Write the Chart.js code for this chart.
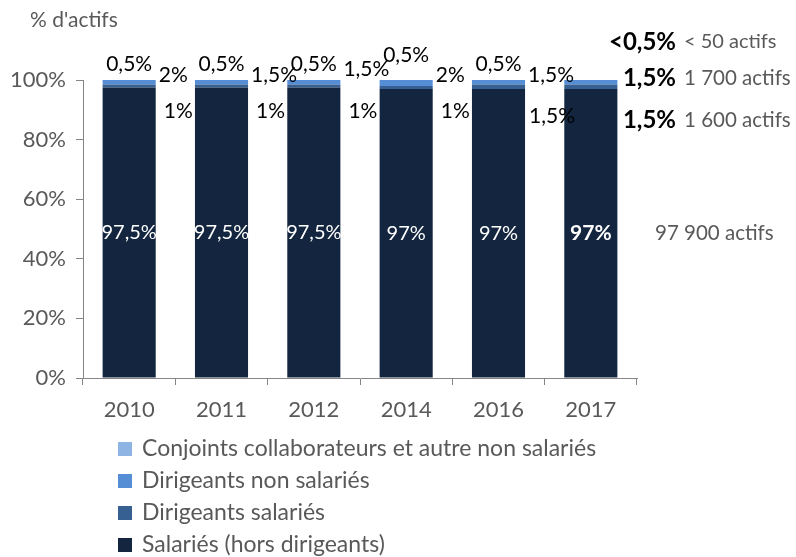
<!DOCTYPE html>
<html>
<head>
<meta charset="utf-8">
<script src="https://cdn.jsdelivr.net/npm/chart.js@4"></script>
<style>
  body { margin: 0; background: #fff; }
  #wrap { width: 796px; height: 557px; }
</style>
</head>
<body>
<div id="wrap"><canvas id="actifs"></canvas></div>
<script>
const years = ["2010", "2011", "2012", "2014", "2016", "2017"];

// parts of each population (%)
const salaries = [97.5, 97.5, 97.5, 97, 97, 97];
const dirigeantsSalaries = [1, 1, 1, 1, 1.5, 1.5];
const dirigeantsNonSalaries = [2, 1.5, 1.5, 2, 1.5, 1.5];
const conjoints = [0.5, 0.5, 0.5, 0.5, 0.5, 0.3];

// text shown next to the bars
const salariesLabels = ["97,5%", "97,5%", "97,5%", "97%", "97%", "97%"];
const dirSalLabels = ["1%", "1%", "1%", "1%", "1,5%", "1,5%"];
const dirNonSalLabels = ["2%", "1,5%", "1,5%", "2%", "1,5%", "1,5%"];
const conjointsLabels = ["0,5%", "0,5%", "0,5%", "0,5%", "0,5%", "<0,5%"];
const effectifs2017 = ["< 50 actifs", "1 700 actifs", "1 600 actifs", "97 900 actifs"];

const seriesNames = [
    "Salariés (hors dirigeants)",
    "Dirigeants salariés",
    "Dirigeants non salariés",
    "Conjoints collaborateurs et autre non salariés"
];
const colors = ["#13253f", "#376092", "#558ed5", "#8eb4e3"];

const FONT = "Lato";
const GREY = "#595959";

const annotations = {
    id: 'annotations',
    afterDatasetsDraw(chart) {
        const ctx = chart.ctx;
        const x = chart.scales.x, y = chart.scales.y;
        const half = x.width / years.length * 0.575 / 2;
        const last = years.length - 1;
        ctx.save();
        ctx.textBaseline = 'middle';

        years.forEach((yr, i) => {
            const c = x.getPixelForValue(i);
            // inside label
            ctx.fillStyle = '#fff';
            ctx.textAlign = 'center';
            ctx.font = (i === last ? 'bold 21px ' : '20px ') + FONT;
            ctx.fillText(salariesLabels[i], c, y.getPixelForValue(salaries[i] / 2));
            if (i === last) return;
            ctx.fillStyle = '#000';
            ctx.font = '21px ' + FONT;
            ctx.fillText(conjointsLabels[i], c, y.getPixelForValue(100) - (i === 3 ? 25 : 16));
            ctx.textAlign = 'left';
            ctx.fillText(dirNonSalLabels[i], c + half + 3, y.getPixelForValue(100) - (i === 2 ? 11 : 5));
            ctx.fillText(dirSalLabels[i], c + half + (dirSalLabels[i] === "1%" ? 8 : 4), y.getPixelForValue(100) + 31 + (i === 4 ? 5 : 0));
        });

        // 2017 summary on the right
        const bx = chart.chartArea.right + 39;
        const rows = [y.getPixelForValue(100) - 38, y.getPixelForValue(100) - 2, y.getPixelForValue(100) + 40];
        const bold = [conjointsLabels[last], dirNonSalLabels[last], dirSalLabels[last]];
        rows.forEach((ry, k) => {
            ctx.textAlign = 'right';
            ctx.fillStyle = '#000';
            ctx.font = 'bold 24px ' + FONT;
            ctx.fillText(bold[k], bx, ry);
            ctx.textAlign = 'left';
            ctx.fillStyle = GREY;
            ctx.font = (k === 0 ? '20px ' : '20.5px ') + FONT;
            ctx.fillText(effectifs2017[k], bx + 8, ry);
        });
        ctx.font = '20.5px ' + FONT;
        ctx.fillText(effectifs2017[3], chart.chartArea.right + 18, y.getPixelForValue(salaries[last] / 2));

        // axis title
        ctx.textAlign = 'left';
        ctx.font = '21px ' + FONT;
        ctx.fillText("% d'actifs", 30, 20);

        // legend, top series first
        ctx.font = '23px ' + FONT;
        for (let k = 0; k < seriesNames.length; k++) {
            const s = seriesNames.length - 1 - k;
            const ly = 449 + k * 32;
            ctx.fillStyle = colors[s];
            ctx.fillRect(118, ly - 7, 14, 14);
            ctx.fillStyle = GREY;
            ctx.fillText(seriesNames[s], 142, ly);
        }
        ctx.restore();
    }
};

new Chart(document.querySelector("canvas#actifs"), {
    type: 'bar',
    data: {
        labels: years,
        datasets: [
            { label: seriesNames[0], data: salaries, backgroundColor: colors[0] },
            { label: seriesNames[1], data: dirigeantsSalaries, backgroundColor: colors[1] },
            { label: seriesNames[2], data: dirigeantsNonSalaries, backgroundColor: colors[2] },
            { label: seriesNames[3], data: conjoints, backgroundColor: colors[3] }
        ]
    },
    options: {
        responsive: true,
        maintainAspectRatio: false,
        animation: false,
        datasets: {
            bar: { barPercentage: 1, categoryPercentage: 0.575, clip: 0, borderWidth: 0 }
        },
        layout: { padding: { top: 80, right: 159, bottom: 139, left: 0 } },
        plugins: {
            legend: { display: false },
            tooltip: { enabled: false }
        },
        scales: {
            x: {
                stacked: true,
                afterFit: (s) => { s.height = 40; },
                grid: { drawOnChartArea: false, tickLength: 7, color: '#868686' },
                border: { color: '#868686' },
                ticks: { color: GREY, font: { family: FONT, size: 22 }, padding: 12 }
            },
            y: {
                stacked: true,
                min: 0,
                max: 100,
                afterFit: (s) => { s.width = 83; },
                grid: { drawOnChartArea: false, tickLength: 7, color: '#868686' },
                border: { color: '#868686' },
                ticks: {
                    stepSize: 20,
                    color: GREY,
                    font: { family: FONT, size: 22 },
                    padding: 10,
                    callback: (v) => v + '%'
                }
            }
        }
    },
    plugins: [annotations]
});
</script>
</body>
</html>
